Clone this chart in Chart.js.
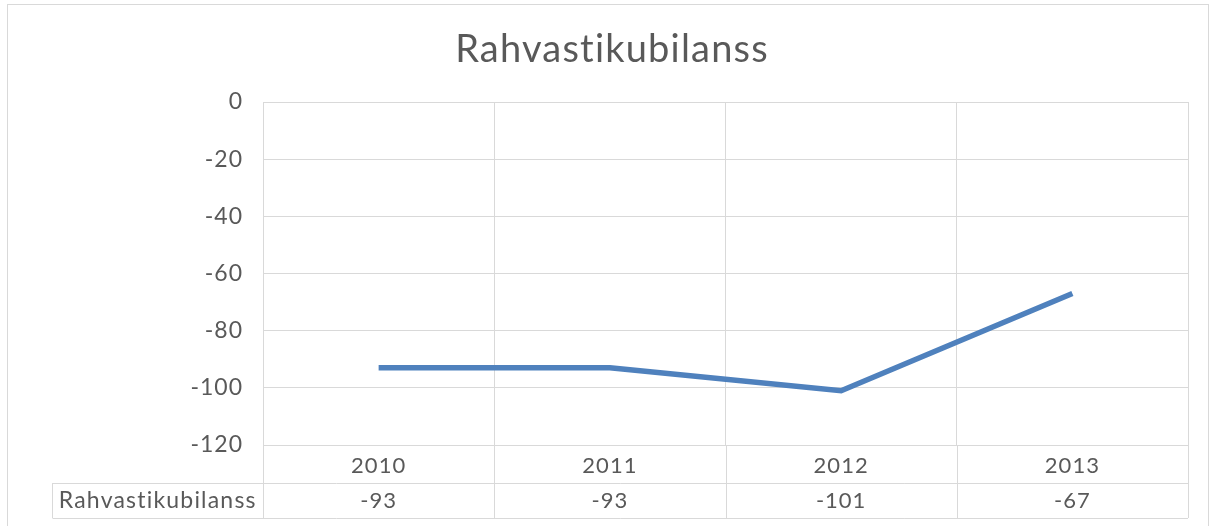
<!DOCTYPE html>
<html>
<head>
<meta charset="utf-8">
<script src="https://cdn.jsdelivr.net/npm/chart.js@4.4.1/dist/chart.umd.min.js"></script>
<style>
  html, body { margin: 0; padding: 0; background: #ffffff; }
  #wrap { width: 1213px; height: 526px; position: relative; }
</style>
</head>
<body>
<div id="wrap"><canvas id="chart"></canvas></div>
<script>
// ── Data ───────────────────────────────────────────────────────────────────
const TITLE = "Rahvastikubilanss";
const SERIES_NAME = "Rahvastikubilanss";
const YEARS = ["2010", "2011", "2012", "2013"];
const BALANCE = [-93, -93, -101, -67];
const Y_MIN = -120;
const Y_MAX = 0;
const Y_STEP = 20;

// ── Theme ──────────────────────────────────────────────────────────────────
const FONT = "Lato, 'Open Sans', sans-serif";
const TEXT = "#595959";
const GRID = "#d9d9d9";
const LINE = "#4f81bd";

// wider letters, closer to the original's geometric face (also stops Lato ligatures)
const spacingPlugin = {
  id: "spacingPlugin",
  beforeDraw(chart) { chart.ctx.letterSpacing = "1px"; },
};

// frame, title and data table under the x axis
const tablePlugin = {
  id: "tablePlugin",
  afterDraw(chart) {
    const { ctx, chartArea, scales } = chart;
    const x = scales.x;
    const half = (x.getPixelForValue(1) - x.getPixelForValue(0)) / 2;
    const rowTop = chartArea.bottom + 38;
    const rowBottom = rowTop + 35;
    const labelLeft = 52.5;

    ctx.save();
    ctx.strokeStyle = GRID;
    ctx.lineWidth = 1;

    // outer frame
    ctx.strokeRect(7.5, 4.5, 1201, 540);

    // table lines
    ctx.beginPath();
    ctx.moveTo(labelLeft, Math.round(rowTop) + 0.5);
    ctx.lineTo(chartArea.right, Math.round(rowTop) + 0.5);
    ctx.moveTo(labelLeft, Math.round(rowBottom) + 0.5);
    ctx.lineTo(chartArea.right, Math.round(rowBottom) + 0.5);
    ctx.moveTo(labelLeft, rowTop);
    ctx.lineTo(labelLeft, rowBottom);
    for (let i = 0; i <= YEARS.length; i++) {
      const px = Math.round(x.getPixelForValue(i) - half) + 0.5;
      ctx.moveTo(px, chartArea.bottom);
      ctx.lineTo(px, rowBottom);
    }
    ctx.stroke();

    // table text
    ctx.fillStyle = TEXT;
    ctx.textAlign = "center";
    ctx.textBaseline = "middle";
    const midY = (rowTop + rowBottom) / 2;
    ctx.letterSpacing = "1.2px";
    ctx.font = "23px " + FONT;
    ctx.fillText(SERIES_NAME, (labelLeft + chartArea.left) / 2, midY);
    ctx.letterSpacing = "1px";
    ctx.font = "22px " + FONT;
    BALANCE.forEach((v, i) => {
      ctx.fillText(String(v), x.getPixelForValue(i), midY);
    });

    // title
    ctx.letterSpacing = "1.2px";
    ctx.font = "38px " + FONT;
    ctx.textBaseline = "alphabetic";
    ctx.fillText(TITLE, 612, 62);
    ctx.restore();
  },
};

new Chart(document.getElementById("chart"), {
  type: "line",
  data: {
    labels: YEARS,
    datasets: [{
      label: SERIES_NAME,
      data: BALANCE,
      borderColor: LINE,
      borderWidth: 5.5,
      pointRadius: 0,
      tension: 0,
      fill: false,
    }],
  },
  options: {
    responsive: true,
    maintainAspectRatio: false,
    animation: false,
    layout: { padding: { top: 102, left: 0, right: 25, bottom: 43 } },
    plugins: {
      legend: { display: false },
      title: { display: false },
      tooltip: { enabled: false },
    },
    scales: {
      x: {
        offset: true,
        grid: { offset: true, color: GRID, drawTicks: false },
        border: { color: GRID },
        ticks: { color: TEXT, font: { family: FONT, size: 22 }, padding: 8, maxRotation: 0 },
        afterFit(scale) { scale.height = 38; },
      },
      y: {
        min: Y_MIN,
        max: Y_MAX,
        ticks: { stepSize: Y_STEP, color: TEXT, font: { family: FONT, size: 23 }, padding: 20 },
        grid: { color: GRID, drawTicks: false },
        border: { display: false },
        afterFit(scale) { scale.width = 263; },
      },
    },
  },
  plugins: [spacingPlugin, tablePlugin],
});
</script>
</body>
</html>
